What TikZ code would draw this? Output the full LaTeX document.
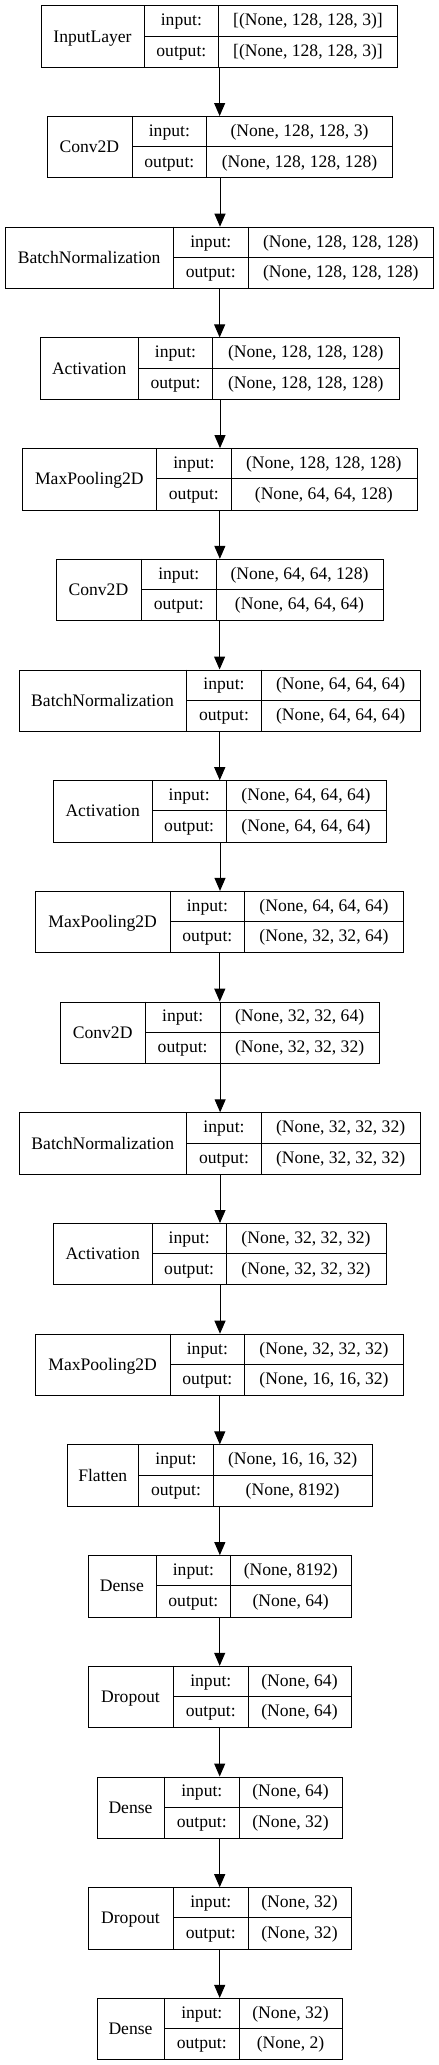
\documentclass[tikz,border=0pt]{standalone}
\usepackage{fontspec}
\setmainfont{Liberation Serif}
\usetikzlibrary{arrows.meta}
\tikzset{
  lay/.style={draw, line width=1pt, inner sep=0pt, minimum height=61.4pt},
  div/.style={line width=1pt},
  txt/.style={inner sep=0pt, anchor=base, font=\fontsize{17.6}{20}\selectfont},
  arr/.style={line width=1pt, -{Triangle[length=13pt,width=11pt]}}
}
% #1 index, #2 left, #3 divider 1, #4 divider 2, #5 right, #6 name, #7 input, #8 output
\newcommand\mklayer[8]{%
  \pgfmathsetmacro\yt{5.3+110.7*(#1-1)}%
  \pgfmathsetmacro\ym{\yt+30.7}%
  \pgfmathsetmacro\yb{\yt+61.4}%
  \node[lay, anchor=north west, minimum width={#5-#2}] (L#1) at (#2,\yt) {};
  \draw[div] (#3,\yt) -- (#3,\yb) (#4,\yt) -- (#4,\yb) (#3,\ym) -- (#5,\ym);
  \node[txt] (N#1) at ({(#2+#3)/2},{\ym+6}) {#6};
  \node[txt] (I#1) at ({(#3+#4)/2},{\yt+15.35+5}) {input:};
  \node[txt] (O#1) at ({(#3+#4)/2},{\ym+15.35+5}) {output:};
  \node[txt] (V#1) at ({(#4+#5)/2},{\yt+15.35+5}) {#7};
  \node[txt] (W#1) at ({(#4+#5)/2},{\ym+15.35+5}) {#8};
}
\begin{document}
\begin{tikzpicture}[x=1pt,y=-1pt]
\useasboundingbox (0,0) rectangle (439,2065);
\mklayer{1}{41}{144}{218.7}{397.3}{InputLayer}{[(None, 128, 128, 3)]}{[(None, 128, 128, 3)]}
\mklayer{2}{46.7}{132}{206.7}{392.3}{Conv2D}{(None, 128, 128, 3)}{(None, 128, 128, 128)}
\mklayer{3}{5}{173.3}{248.3}{433.3}{BatchNormalization}{(None, 128, 128, 128)}{(None, 128, 128, 128)}
\mklayer{4}{40}{138.3}{212.7}{399}{Activation}{(None, 128, 128, 128)}{(None, 128, 128, 128)}
\mklayer{5}{22}{156.7}{231}{416.7}{MaxPooling2D}{(None, 128, 128, 128)}{(None, 64, 64, 128)}
\mklayer{6}{55.5}{141.3}{216.3}{382.7}{Conv2D}{(None, 64, 64, 128)}{(None, 64, 64, 64)}
\mklayer{7}{18.5}{186.7}{261.3}{420}{BatchNormalization}{(None, 64, 64, 64)}{(None, 64, 64, 64)}
\mklayer{8}{53.3}{152}{226.3}{385.7}{Activation}{(None, 64, 64, 64)}{(None, 64, 64, 64)}
\mklayer{9}{35.3}{170}{244.7}{403.3}{MaxPooling2D}{(None, 64, 64, 64)}{(None, 32, 32, 64)}
\mklayer{10}{60}{145.3}{220}{379.3}{Conv2D}{(None, 32, 32, 64)}{(None, 32, 32, 32)}
\mklayer{11}{19}{186.7}{261.3}{420}{BatchNormalization}{(None, 32, 32, 32)}{(None, 32, 32, 32)}
\mklayer{12}{53.3}{152}{226.3}{385.7}{Activation}{(None, 32, 32, 32)}{(None, 32, 32, 32)}
\mklayer{13}{35.3}{170}{244.7}{403.3}{MaxPooling2D}{(None, 32, 32, 32)}{(None, 16, 16, 32)}
\mklayer{14}{66.7}{138.7}{213.3}{372}{Flatten}{(None, 16, 16, 32)}{(None, 8192)}
\mklayer{15}{87.7}{156}{230.7}{350.7}{Dense}{(None, 8192)}{(None, 64)}
\mklayer{16}{87.7}{173.3}{248.3}{350.7}{Dropout}{(None, 64)}{(None, 64)}
\mklayer{17}{96.7}{164.3}{239.3}{341.7}{Dense}{(None, 64)}{(None, 32)}
\mklayer{18}{87.7}{173.3}{248.3}{350.7}{Dropout}{(None, 32)}{(None, 32)}
\mklayer{19}{96.7}{164.3}{239.3}{341.7}{Dense}{(None, 32)}{(None, 2)}
\foreach \i [evaluate=\i as \j using int(\i+1)] in {1,...,18}
  \draw[arr] (L\i.south) -- (L\i.south |- L\j.north);
\end{tikzpicture}
\end{document}
